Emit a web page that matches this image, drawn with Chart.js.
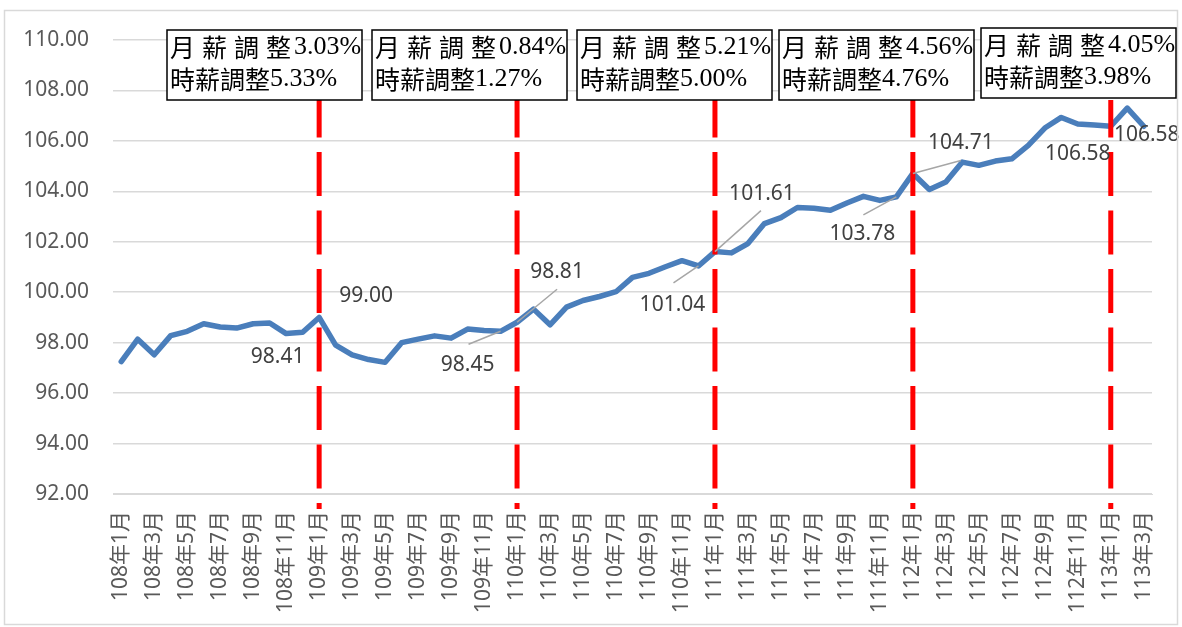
<!DOCTYPE html>
<html>
<head>
<meta charset="utf-8">
<script src="https://cdn.jsdelivr.net/npm/chart.js@4/dist/chart.umd.min.js"></script>
<style>
  html, body { margin: 0; padding: 0; background: #fff; }
  #wrap { width: 1182px; height: 627px; position: relative; }
</style>
</head>
<body>
<div id="wrap"><canvas id="c" width="1182" height="627"></canvas></div>
<script>
// ── data ─────────────────────────────────────────
var YEARS = [108, 109, 110, 111, 112, 113];
var LABELS = [];
YEARS.forEach(function (y) {
  for (var m = 1; m <= 12; m++) {
    if (y === 113 && m > 3) break;
    LABELS.push(y + '年' + m + '月');
  }
});

var VALUES = [
  97.25, 98.14, 97.52, 98.28, 98.45, 98.75, 98.62, 98.58, 98.75, 98.78, 98.36, 98.41,
  99.00, 97.90, 97.52, 97.33, 97.22, 98.00, 98.14, 98.27, 98.18, 98.54, 98.48, 98.45,
  98.81, 99.33, 98.71, 99.41, 99.67, 99.83, 100.02, 100.59, 100.75, 101.01, 101.25, 101.04,
  101.61, 101.56, 101.93, 102.72, 102.96, 103.36, 103.33, 103.25, 103.54, 103.80, 103.64, 103.78,
  104.71, 104.07, 104.37, 105.16, 105.03, 105.20, 105.29, 105.82, 106.51, 106.93, 106.67, 106.63,
  106.58, 107.30, 106.58
];

// points that carry a value label
var LABELLED = [11, 12, 23, 24, 35, 36, 47, 48, 60, 62];

// wage adjustments shown in the boxes (one per January from 109)
var ADJ_MONTH = ['3.03%', '0.84%', '5.21%', '4.56%', '4.05%'];
var ADJ_HOUR  = ['5.33%', '1.27%', '5.00%', '4.76%', '3.98%'];
var ADJ_AT = ['109年1月', '110年1月', '111年1月', '112年1月', '113年1月'];

// ── layout for the annotations ───────────────────
// label centre offset from its point, and leader-line start (null = none)
var LABEL_POS = {
  11: { dx: -25, dy: 25, lead: null },
  12: { dx: 47, dy: -21, lead: null },
  23: { dx: -33, dy: 34, lead: [-32, 13] },
  24: { dx: 40, dy: -50, lead: [40, -33] },
  35: { dx: -26, dy: 39, lead: [-25, 17] },
  36: { dx: 47, dy: -58, lead: [46, -41] },
  47: { dx: -34, dy: 37, lead: [-33, 18] },
  48: { dx: 48, dy: -30, lead: [48, -13] },
  60: { dx: -33, dy: 28, lead: null },
  62: { dx: 3, dy: 9, lead: null }
};
var BOX_LEFT = [167, 372, 577, 779, 981];
var BOX_TOP = [30, 30, 30, 30, 28];
var BOX_W = 195, BOX_H = 70;

var CJK = '"Noto Sans CJK TC", "Noto Sans", sans-serif';
var SERIF = '"Liberation Serif", "Noto Sans CJK TC", serif';

var annotations = {
  id: 'annotations',
  afterDatasetsDraw: function (chart) {
    var ctx = chart.ctx;
    var x = chart.scales.x;
    var meta = chart.getDatasetMeta(0);

    // red dashed markers at each adjustment
    ctx.save();
    ctx.strokeStyle = '#FF0000';
    ctx.lineWidth = 5;
    ctx.setLineDash([44, 14.5]);
    ctx.lineDashOffset = 6.5;
    ADJ_AT.forEach(function (lab) {
      var px = x.getPixelForValue(LABELS.indexOf(lab));
      ctx.beginPath();
      ctx.moveTo(px, 100);
      ctx.lineTo(px, 509);
      ctx.stroke();
    });
    ctx.restore();

    // value labels with leader lines
    ctx.save();
    ctx.font = '21px "Noto Sans", sans-serif';
    ctx.fillStyle = '#404040';
    ctx.textAlign = 'center';
    ctx.textBaseline = 'middle';
    LABELLED.forEach(function (i) {
      var pt = meta.data[i];
      var p = LABEL_POS[i];
      if (p.lead) {
        ctx.beginPath();
        ctx.strokeStyle = '#A6A6A6';
        ctx.lineWidth = 1.5;
        ctx.moveTo(pt.x + p.lead[0], pt.y + p.lead[1]);
        ctx.lineTo(pt.x, pt.y);
        ctx.stroke();
      }
      ctx.fillText(VALUES[i].toFixed(2), pt.x + p.dx, pt.y + p.dy);
    });
    ctx.restore();
  },
  afterDraw: function (chart) {
    var ctx = chart.ctx;
    ctx.save();
    // outer chart border
    ctx.strokeStyle = '#D9D9D9';
    ctx.lineWidth = 1.5;
    ctx.strokeRect(4.5, 10.5, 1173, 614);

    // adjustment boxes
    ADJ_MONTH.forEach(function (m, k) {
      var bx = BOX_LEFT[k], by = BOX_TOP[k];
      ctx.fillStyle = '#fff';
      ctx.fillRect(bx, by, BOX_W, BOX_H);
      ctx.strokeStyle = '#000';
      ctx.lineWidth = 1.5;
      ctx.strokeRect(bx, by, BOX_W, BOX_H);

      ctx.fillStyle = '#000';
      ctx.textBaseline = 'middle';
      ctx.textAlign = 'left';
      var chars = ['月', '薪', '調', '整'];
      ctx.font = '25px ' + CJK;
      chars.forEach(function (c, j) {
        ctx.fillText(c, bx + 3 + j * 32, by + 17);
      });
      ctx.font = '26px ' + SERIF;
      ctx.fillText(m, bx + 3 + 4 * 32 - 4, by + 17);

      ctx.font = '25px ' + CJK;
      var s = '時薪調整';
      ctx.fillText(s, bx + 3, by + 49);
      var w = ctx.measureText(s).width;
      ctx.font = '26px ' + SERIF;
      ctx.fillText(ADJ_HOUR[k], bx + 3 + w, by + 49);
    });
    ctx.restore();
  }
};

new Chart(document.getElementById('c'), {
  type: 'line',
  data: {
    labels: LABELS,
    datasets: [{
      data: VALUES,
      borderColor: '#4A7EBB',
      borderWidth: 5.5,
      borderJoinStyle: 'round',
      borderCapStyle: 'round',
      pointRadius: 0,
      tension: 0,
      fill: false
    }]
  },
  options: {
    responsive: false,
    animation: false,
    devicePixelRatio: 1,
    layout: { padding: { top: 40, right: 30, left: 0, bottom: 0 } },
    plugins: { legend: { display: false }, tooltip: { enabled: false } },
    scales: {
      x: {
        offset: true,
        grid: { display: false, drawTicks: false },
        border: { display: true, color: '#D9D9D9' },
        ticks: {
          autoSkip: false, maxRotation: 90, minRotation: 90, padding: 17,
          color: '#595959',
          font: { family: '"Noto Sans", "Noto Sans CJK TC", sans-serif', size: 21 },
          callback: function (v, i) { return i % 2 === 0 ? LABELS[i] : ''; }
        },
        afterFit: function (s) { s.height = 133; s.paddingLeft = 0; s.paddingRight = 0; }
      },
      y: {
        min: 92, max: 110,
        grid: { color: '#D9D9D9', lineWidth: 1.5, drawTicks: false },
        border: { display: false },
        ticks: {
          stepSize: 2, padding: 24, color: '#595959',
          font: { family: '"Noto Sans", sans-serif', size: 21 },
          callback: function (v) { return v.toFixed(2); }
        },
        afterFit: function (s) { s.width = 113; }
      }
    }
  },
  plugins: [annotations]
});
</script>
</body>
</html>
